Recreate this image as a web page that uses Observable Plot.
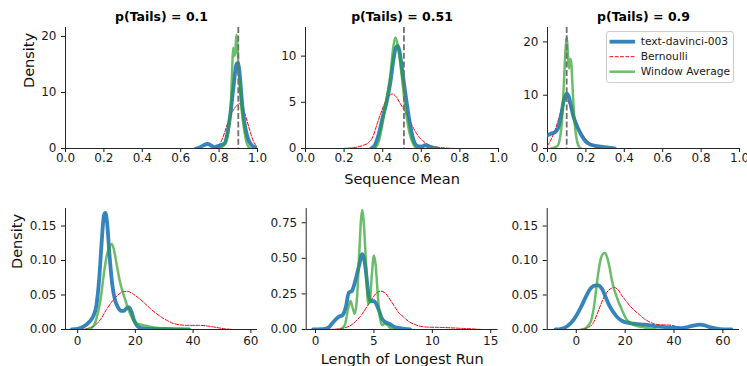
<!DOCTYPE html>
<html><head><meta charset="utf-8">
<script src="https://cdn.jsdelivr.net/npm/d3@7"></script>
<script src="https://cdn.jsdelivr.net/npm/@observablehq/plot@0.6"></script>
<style>
body{margin:0;background:#fff;font-family:"DejaVu Sans",sans-serif;}
#chart{position:relative;width:747px;height:366px;overflow:hidden;background:#fff;}
#chart > svg{position:absolute;}
</style></head><body><div id="chart"></div>
<script>
// ---- data: [x, density] pairs ----
// Top row: Sequence Mean
const p01Model = [[0.68,0],[0.70,0.2],[0.72,0.6],[0.74,0.8],[0.76,0.5],[0.775,0.2],[0.79,0.4],[0.81,0.6],[0.83,1.0],[0.845,3],[0.86,6.5],[0.875,11],[0.89,15],[0.897,15.3],[0.905,14],[0.92,8],[0.935,4],[0.95,1.8],[0.965,0.8],[0.98,0.3],[1.0,0.05]];
const p01Bern = [[0.77,0],[0.79,0.3],[0.81,1.2],[0.83,3],[0.85,5],[0.87,6.6],[0.89,7.6],[0.905,8],[0.92,7.4],[0.94,5.6],[0.96,3.2],[0.98,1.2],[1.0,0.2]];
const p01Win = [[0.80,0],[0.83,0.8],[0.85,3.5],[0.86,7],[0.868,14],[0.873,18],[0.878,16.5],[0.884,17],[0.89,20.3],[0.895,19],[0.90,15],[0.91,10],[0.92,6],[0.93,3.5],[0.94,1.5],[0.95,0.5],[0.965,0]];

const p051Model = [[0.34,0],[0.36,0.4],[0.38,1.6],[0.40,3.4],[0.42,5.0],[0.44,7.2],[0.455,9.5],[0.47,11],[0.478,11.1],[0.49,10.2],[0.50,8.6],[0.52,5.6],[0.54,2.8],[0.56,0.9],[0.58,0.25],[0.60,0.2],[0.62,0.35],[0.64,0.2],[0.66,0.05],[0.68,0]];
const p051Bern = [[0.19,0],[0.25,0.1],[0.3,0.35],[0.33,0.7],[0.35,1.3],[0.37,2.6],[0.39,3.8],[0.41,4.9],[0.43,5.6],[0.45,5.9],[0.47,5.6],[0.49,4.9],[0.51,4.2],[0.53,3.5],[0.55,2.6],[0.57,1.8],[0.59,1.2],[0.61,0.8],[0.63,0.5],[0.66,0.25],[0.70,0.1],[0.75,0.02],[0.78,0]];
const p051Win = [[0.36,0],[0.38,0.8],[0.40,2.8],[0.42,5.4],[0.44,8],[0.455,11],[0.465,12],[0.475,11.5],[0.49,9.4],[0.50,7.6],[0.52,4],[0.54,1.6],[0.56,0.4],[0.575,0]];

const p09Model = [[-0.05,1.6],[-0.02,2.2],[0,2.5],[0.02,2.8],[0.04,3.1],[0.055,3.8],[0.07,6],[0.085,9],[0.1,10.3],[0.11,9.8],[0.12,8.4],[0.135,6],[0.15,4.5],[0.165,3.3],[0.18,2.3],[0.2,1.3],[0.22,0.8],[0.25,0.5],[0.28,0.35],[0.31,0.2],[0.34,0.05],[0.35,0]];
const p09Bern = [[0,0.5],[0.02,1.8],[0.04,3.5],[0.06,5.8],[0.08,8.2],[0.095,9.2],[0.11,8.6],[0.13,6.6],[0.15,4.8],[0.17,3.3],[0.19,2.2],[0.21,1.3],[0.23,0.7],[0.25,0.35],[0.27,0.1],[0.28,0]];
const p09Win = [[0.02,0],[0.05,0.4],[0.065,2],[0.075,5],[0.085,12],[0.093,18],[0.1,21],[0.106,18],[0.112,15],[0.118,16.8],[0.124,16],[0.13,12],[0.137,7],[0.145,3.5],[0.155,1.2],[0.165,0.3],[0.175,0]];

// Bottom row: Length of Longest Run
const r01Model = [[-2,0],[0,0.001],[2,0.004],[4,0.011],[5.5,0.02],[6.5,0.035],[7.5,0.075],[8.3,0.125],[9.1,0.165],[9.6,0.169],[10.2,0.155],[11,0.11],[12,0.065],[13,0.042],[14,0.032],[15,0.027],[16,0.027],[17,0.031],[17.8,0.032],[18.7,0.025],[19.5,0.014],[20.5,0.006],[22,0.002],[25,0.0008],[30,0.0005],[38.5,0]];
const r01Bern = [[1,0],[4,0.002],[6,0.006],[8,0.015],[10,0.029],[12,0.041],[14,0.05],[16,0.055],[17.5,0.055],[19,0.052],[21,0.046],[23,0.039],[25,0.031],[27,0.024],[29,0.018],[31,0.013],[33,0.009],[35,0.007],[38,0.006],[42,0.006],[45,0.005],[48,0.003],[51,0.001],[54,0]];
const r01Win = [[3,0],[5,0.003],[6,0.009],[7,0.024],[8,0.045],[9,0.078],[10,0.105],[11,0.12],[11.8,0.124],[12.5,0.117],[13.5,0.095],[14.5,0.072],[15.5,0.056],[16.5,0.043],[17.5,0.03],[18.5,0.02],[19.5,0.012],[21,0.008],[23,0.006],[25,0.004],[28,0.002],[32,0.0015],[36,0.0008],[39,0]];

const r051Model = [[-0.2,0],[0.8,0.004],[1.2,0.02],[1.6,0.06],[2.0,0.09],[2.3,0.1],[2.6,0.16],[2.85,0.26],[3.1,0.27],[3.4,0.34],[3.7,0.44],[4.0,0.53],[4.25,0.45],[4.5,0.27],[4.7,0.2],[5.0,0.2],[5.2,0.18],[5.4,0.14],[5.7,0.075],[6.0,0.05],[6.3,0.04],[6.7,0.02],[7.2,0.01],[8.1,0]];
const r051Bern = [[1.2,0],[2,0.005],[2.7,0.017],[3.2,0.04],[3.6,0.07],[4.0,0.11],[4.4,0.16],[4.8,0.21],[5.2,0.255],[5.55,0.27],[5.9,0.26],[6.3,0.22],[6.7,0.17],[7.1,0.12],[7.5,0.09],[8.0,0.055],[8.5,0.035],[9.0,0.022],[9.5,0.017],[10.5,0.015],[11.5,0.012],[12.5,0.008],[13.5,0.004],[14.2,0]];
const r051Win = [[2.1,0],[2.5,0.03],[2.8,0.15],[3.0,0.2],[3.15,0.16],[3.35,0.11],[3.55,0.22],[3.75,0.55],[3.9,0.78],[4.0,0.84],[4.1,0.78],[4.3,0.5],[4.5,0.18],[4.65,0.2],[4.8,0.36],[5.0,0.52],[5.15,0.45],[5.35,0.22],[5.5,0.09],[5.7,0.03],[5.9,0.04],[6.1,0.035],[6.4,0.01],[6.7,0]];

const r09Model = [[-8.5,0],[-6,0.001],[-4,0.004],[-2,0.01],[0,0.02],[2,0.033],[4,0.048],[6,0.06],[8,0.064],[9,0.064],[10.5,0.059],[12,0.047],[13.5,0.035],[15,0.026],[17,0.017],[19,0.012],[21,0.01],[24,0.008],[28,0.007],[32,0.005],[36,0.0035],[40,0.0022],[43,0.002],[46,0.004],[48.5,0.006],[50.5,0.007],[52.5,0.006],[55,0.003],[58,0.001],[63.5,0]];
const r09Bern = [[1,0],[5,0.003],[7,0.01],[8.5,0.022],[10,0.036],[11.5,0.048],[13,0.056],[14.5,0.06],[15.5,0.061],[17,0.058],[18.5,0.05],[20,0.043],[22,0.034],[24,0.027],[26,0.021],[28,0.015],[30,0.011],[32,0.008],[34,0.007],[37,0.0065],[39,0.006],[41,0.004],[43,0.002],[45.5,0]];
const r09Win = [[2.4,0],[4.5,0.004],[6,0.012],[7.2,0.032],[8.2,0.06],[9,0.082],[10,0.102],[11,0.11],[11.7,0.111],[12.5,0.106],[13.5,0.092],[14.5,0.073],[15.5,0.058],[16.5,0.048],[17.5,0.038],[18.5,0.03],[19.5,0.022],[20.5,0.015],[22,0.01],[24,0.006],[27,0.0035],[30,0.0015],[32.5,0]];

const titles = ["p(Tails) = 0.1", "p(Tails) = 0.51", "p(Tails) = 0.9"];
const trueMeans = [0.9, 0.51, 0.1];
const seriesNames = ["text-davinci-003", "Bernoulli", "Window Average"];
const meanTicks = [0, 0.2, 0.4, 0.6, 0.8, 1.0];
const runTicksWide = [0, 20, 40, 60];
const runTicksNarrow = [0, 5, 10, 15];
const topYTicks = [[0, 10, 20], [0, 5, 10], [0, 10, 20]];
const botYTicks = [[0, 0.05, 0.10, 0.15], [0, 0.25, 0.5, 0.75], [0, 0.05, 0.10, 0.15]];

// ---- styles ----
const BLUE = "#1f77b4", RED = "#ff0000", GREEN = "#2ca02c";
const FONT = "DejaVu Sans";
const chart = document.getElementById("chart");

function panel(o) {
  const mL = o.fl - o.left, mR = o.left + o.w - o.fr, mT = o.ft - o.top, mB = o.top + o.h - o.fb;
  const acc = {x: d => d[0], y: d => d[1], curve: "monotone-x", clip: true};
  const marks = [
    Plot.ruleY([o.yDomain[0]], {stroke: "#262626", strokeWidth: 1}),
    Plot.ruleX([o.xDomain[0]], {stroke: "#262626", strokeWidth: 1}),
    Plot.line(o.bern, {...acc, stroke: RED, strokeWidth: 1, strokeDasharray: "3.7,1.6"}),
    Plot.line(o.model, {...acc, stroke: BLUE, strokeOpacity: 0.9, strokeWidth: 3.8}),
    Plot.line(o.win, {...acc, stroke: GREEN, strokeOpacity: 0.7, strokeWidth: 2.5}),
  ];
  if (o.vline != null) marks.push(Plot.ruleX([o.vline], {stroke: "#707070", strokeWidth: 1.8, strokeDasharray: "6,2.6"}));
  if (o.title) marks.push(Plot.text([o.title], {frameAnchor: "top", lineAnchor: "middle", dy: -10.5, fontWeight: "bold", fontSize: 12.5, fill: "#000"}));
  if (o.xLabel) marks.push(Plot.text([o.xLabel], {frameAnchor: "bottom", lineAnchor: "middle", dy: o.xLabelDy, fontSize: 14.5, fill: "#111"}));
  if (o.yLabel) marks.push(Plot.text([o.yLabel], {frameAnchor: "left", lineAnchor: "middle", rotate: -90, dx: o.yLabelDx, fontSize: 14.5, fill: "#111"}));
  const svg = Plot.plot({
    width: o.w, height: o.h,
    marginLeft: mL, marginRight: mR, marginTop: mT, marginBottom: mB,
    style: {fontFamily: FONT, fontSize: "12px", color: "#1a1a1a", background: "transparent", overflow: "visible"},
    x: {domain: o.xDomain, ticks: o.xTicks, tickFormat: o.xFmt, tickSize: 4, tickPadding: o.xPad, label: null},
    y: {domain: o.yDomain, ticks: o.yTicks, tickFormat: o.yFmt, tickSize: 4, tickPadding: 5, label: null},
    marks
  });
  svg.style.left = o.left + "px";
  svg.style.top = o.top + "px";
  chart.appendChild(svg);
}

const f1 = d3.format(".1f"), f2 = d3.format(".2f"), f0 = d => String(d);

panel({left: 0, top: 0, w: 270, h: 180, fl: 65, fr: 257, ft: 27, fb: 148,
  xDomain: [0, 1], yDomain: [0, 21.6], xTicks: meanTicks, yTicks: topYTicks[0], xFmt: f1, yFmt: f0, xPad: 1,
  model: p01Model, bern: p01Bern, win: p01Win, vline: trueMeans[0], title: titles[0], yLabel: "Density", yLabelDx: -36});
panel({left: 270, top: 0, w: 240, h: 180, fl: 305, fr: 498, ft: 27, fb: 148,
  xDomain: [0, 1], yDomain: [0, 13.1], xTicks: meanTicks, yTicks: topYTicks[1], xFmt: f1, yFmt: f0, xPad: 1,
  model: p051Model, bern: p051Bern, win: p051Win, vline: trueMeans[1], title: titles[1], xLabel: "Sequence Mean", xLabelDy: 31});
panel({left: 510, top: 0, w: 237, h: 180, fl: 547, fr: 739, ft: 27, fb: 148,
  xDomain: [0, 1], yDomain: [0, 22.7], xTicks: meanTicks, yTicks: topYTicks[2], xFmt: f1, yFmt: f0, xPad: 1,
  model: p09Model, bern: p09Bern, win: p09Win, vline: trueMeans[2], title: titles[2]});

panel({left: 0, top: 180, w: 270, h: 186, fl: 65, fr: 257, ft: 208, fb: 329,
  xDomain: [-4.2, 62.3], yDomain: [0, 0.1754], xTicks: runTicksWide, yTicks: botYTicks[0], xFmt: f0, yFmt: f2, xPad: 3,
  model: r01Model, bern: r01Bern, win: r01Win, yLabel: "Density", yLabelDx: -48});
panel({left: 270, top: 180, w: 240, h: 186, fl: 305.7, fr: 497.7, ft: 208, fb: 329,
  xDomain: [-0.8, 15.64], yDomain: [0, 0.85], xTicks: runTicksNarrow, yTicks: botYTicks[1], xFmt: f0, yFmt: f2, xPad: 3,
  model: r051Model, bern: r051Bern, win: r051Win, xLabel: "Length of Longest Run", xLabelDy: 30});
panel({left: 510, top: 180, w: 237, h: 186, fl: 546.7, fr: 739, ft: 208, fb: 329,
  xDomain: [-11.9, 66.8], yDomain: [0, 0.1754], xTicks: runTicksWide, yTicks: botYTicks[2], xFmt: f0, yFmt: f2, xPad: 3,
  model: r09Model, bern: r09Bern, win: r09Win});

// ---- legend (in the p(Tails) = 0.9 panel) ----
const lg = d3.select(chart).append("svg")
  .attr("width", 130).attr("height", 54)
  .style("left", "606px").style("top", "31px").style("overflow", "visible");
lg.append("rect").attr("x", 0.5).attr("y", 0.5).attr("width", 127).attr("height", 51).attr("rx", 2.5)
  .attr("fill", "#fff").attr("fill-opacity", 0.8).attr("stroke", "#cccccc");
const legendStyles = [
  {stroke: BLUE, op: 0.9, w: 3.8, dash: null},
  {stroke: RED, op: 1, w: 1, dash: "3.7,1.6"},
  {stroke: GREEN, op: 0.7, w: 2.5, dash: null}
];
seriesNames.forEach((name, i) => {
  const y = 10.7 + i * 15;
  const s = legendStyles[i];
  const ln = lg.append("line").attr("x1", 3.5).attr("x2", 29).attr("y1", y).attr("y2", y)
    .attr("stroke", s.stroke).attr("stroke-opacity", s.op).attr("stroke-width", s.w);
  if (s.dash) ln.attr("stroke-dasharray", s.dash);
  lg.append("text").attr("x", 34.7).attr("y", y).attr("dy", "0.35em")
    .attr("font-family", FONT).attr("font-size", 10.7).attr("fill", "#1a1a1a").text(name);
});
</script></body></html>
